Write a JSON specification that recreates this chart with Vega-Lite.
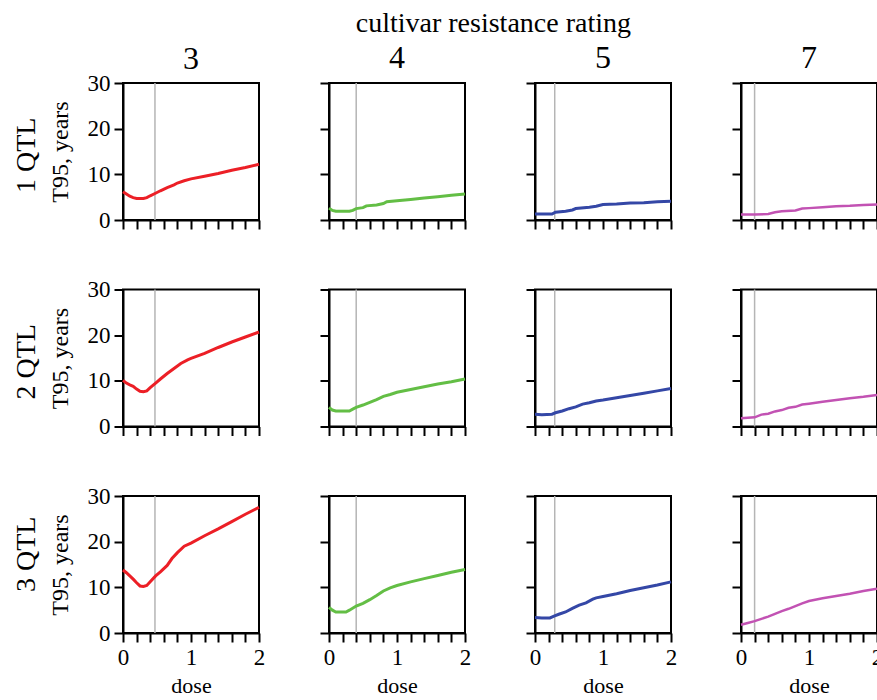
{
  "$schema": "https://vega.github.io/schema/vega-lite/v6.json",
  "padding": {"left": 13, "top": 10, "right": 0, "bottom": 0},
  "background": "white",
  "datasets": {
    "thresholds": [
      {"rating": 3, "dose": 0.47},
      {"rating": 4, "dose": 0.4},
      {"rating": 5, "dose": 0.29},
      {"rating": 7, "dose": 0.2}
    ],
    "curves": [
      {"qtl": 1, "rating": 3, "dose": 0, "t95": 6.2},
      {"qtl": 1, "rating": 3, "dose": 0.05, "t95": 5.7},
      {"qtl": 1, "rating": 3, "dose": 0.1, "t95": 5.2},
      {"qtl": 1, "rating": 3, "dose": 0.15, "t95": 4.9},
      {"qtl": 1, "rating": 3, "dose": 0.2, "t95": 4.7},
      {"qtl": 1, "rating": 3, "dose": 0.3, "t95": 4.7},
      {"qtl": 1, "rating": 3, "dose": 0.35, "t95": 4.9},
      {"qtl": 1, "rating": 3, "dose": 0.4, "t95": 5.3},
      {"qtl": 1, "rating": 3, "dose": 0.47, "t95": 5.8},
      {"qtl": 1, "rating": 3, "dose": 0.55, "t95": 6.4},
      {"qtl": 1, "rating": 3, "dose": 0.65, "t95": 7.1},
      {"qtl": 1, "rating": 3, "dose": 0.75, "t95": 7.7},
      {"qtl": 1, "rating": 3, "dose": 0.8, "t95": 8.1},
      {"qtl": 1, "rating": 3, "dose": 0.9, "t95": 8.6},
      {"qtl": 1, "rating": 3, "dose": 1.0, "t95": 9.0},
      {"qtl": 1, "rating": 3, "dose": 1.2, "t95": 9.6},
      {"qtl": 1, "rating": 3, "dose": 1.4, "t95": 10.2},
      {"qtl": 1, "rating": 3, "dose": 1.6, "t95": 10.9},
      {"qtl": 1, "rating": 3, "dose": 1.8, "t95": 11.5},
      {"qtl": 1, "rating": 3, "dose": 2.0, "t95": 12.2},

      {"qtl": 2, "rating": 3, "dose": 0, "t95": 10.1},
      {"qtl": 2, "rating": 3, "dose": 0.05, "t95": 9.5},
      {"qtl": 2, "rating": 3, "dose": 0.1, "t95": 9.1},
      {"qtl": 2, "rating": 3, "dose": 0.15, "t95": 8.8},
      {"qtl": 2, "rating": 3, "dose": 0.2, "t95": 8.2},
      {"qtl": 2, "rating": 3, "dose": 0.25, "t95": 7.7},
      {"qtl": 2, "rating": 3, "dose": 0.3, "t95": 7.6},
      {"qtl": 2, "rating": 3, "dose": 0.35, "t95": 7.8},
      {"qtl": 2, "rating": 3, "dose": 0.4, "t95": 8.5},
      {"qtl": 2, "rating": 3, "dose": 0.48, "t95": 9.5},
      {"qtl": 2, "rating": 3, "dose": 0.55, "t95": 10.4},
      {"qtl": 2, "rating": 3, "dose": 0.65, "t95": 11.6},
      {"qtl": 2, "rating": 3, "dose": 0.75, "t95": 12.7},
      {"qtl": 2, "rating": 3, "dose": 0.85, "t95": 13.8},
      {"qtl": 2, "rating": 3, "dose": 0.95, "t95": 14.6},
      {"qtl": 2, "rating": 3, "dose": 1.0, "t95": 14.9},
      {"qtl": 2, "rating": 3, "dose": 1.2, "t95": 16.0},
      {"qtl": 2, "rating": 3, "dose": 1.4, "t95": 17.3},
      {"qtl": 2, "rating": 3, "dose": 1.6, "t95": 18.5},
      {"qtl": 2, "rating": 3, "dose": 1.8, "t95": 19.6},
      {"qtl": 2, "rating": 3, "dose": 2.0, "t95": 20.7},

      {"qtl": 3, "rating": 3, "dose": 0, "t95": 13.8},
      {"qtl": 3, "rating": 3, "dose": 0.05, "t95": 13.2},
      {"qtl": 3, "rating": 3, "dose": 0.1, "t95": 12.5},
      {"qtl": 3, "rating": 3, "dose": 0.15, "t95": 11.8},
      {"qtl": 3, "rating": 3, "dose": 0.2, "t95": 11.0},
      {"qtl": 3, "rating": 3, "dose": 0.25, "t95": 10.3},
      {"qtl": 3, "rating": 3, "dose": 0.3, "t95": 10.2},
      {"qtl": 3, "rating": 3, "dose": 0.35, "t95": 10.4},
      {"qtl": 3, "rating": 3, "dose": 0.4, "t95": 11.2},
      {"qtl": 3, "rating": 3, "dose": 0.48, "t95": 12.5},
      {"qtl": 3, "rating": 3, "dose": 0.55, "t95": 13.4},
      {"qtl": 3, "rating": 3, "dose": 0.65, "t95": 14.8},
      {"qtl": 3, "rating": 3, "dose": 0.72, "t95": 16.3},
      {"qtl": 3, "rating": 3, "dose": 0.8, "t95": 17.6},
      {"qtl": 3, "rating": 3, "dose": 0.9, "t95": 19.0},
      {"qtl": 3, "rating": 3, "dose": 1.0, "t95": 19.7},
      {"qtl": 3, "rating": 3, "dose": 1.2, "t95": 21.3},
      {"qtl": 3, "rating": 3, "dose": 1.4, "t95": 22.8},
      {"qtl": 3, "rating": 3, "dose": 1.6, "t95": 24.4},
      {"qtl": 3, "rating": 3, "dose": 1.8, "t95": 26.0},
      {"qtl": 3, "rating": 3, "dose": 2.0, "t95": 27.5},

      {"qtl": 1, "rating": 4, "dose": 0, "t95": 2.6},
      {"qtl": 1, "rating": 4, "dose": 0.05, "t95": 2.1},
      {"qtl": 1, "rating": 4, "dose": 0.1, "t95": 1.9},
      {"qtl": 1, "rating": 4, "dose": 0.2, "t95": 1.9},
      {"qtl": 1, "rating": 4, "dose": 0.3, "t95": 1.9},
      {"qtl": 1, "rating": 4, "dose": 0.35, "t95": 2.1},
      {"qtl": 1, "rating": 4, "dose": 0.4, "t95": 2.5},
      {"qtl": 1, "rating": 4, "dose": 0.5, "t95": 2.7},
      {"qtl": 1, "rating": 4, "dose": 0.55, "t95": 3.1},
      {"qtl": 1, "rating": 4, "dose": 0.7, "t95": 3.3},
      {"qtl": 1, "rating": 4, "dose": 0.8, "t95": 3.6},
      {"qtl": 1, "rating": 4, "dose": 0.85, "t95": 4.0},
      {"qtl": 1, "rating": 4, "dose": 1.0, "t95": 4.2},
      {"qtl": 1, "rating": 4, "dose": 1.2, "t95": 4.5},
      {"qtl": 1, "rating": 4, "dose": 1.4, "t95": 4.8},
      {"qtl": 1, "rating": 4, "dose": 1.6, "t95": 5.1},
      {"qtl": 1, "rating": 4, "dose": 1.8, "t95": 5.4},
      {"qtl": 1, "rating": 4, "dose": 2.0, "t95": 5.7},

      {"qtl": 2, "rating": 4, "dose": 0, "t95": 4.2},
      {"qtl": 2, "rating": 4, "dose": 0.05, "t95": 3.6},
      {"qtl": 2, "rating": 4, "dose": 0.1, "t95": 3.4},
      {"qtl": 2, "rating": 4, "dose": 0.3, "t95": 3.4},
      {"qtl": 2, "rating": 4, "dose": 0.35, "t95": 3.8},
      {"qtl": 2, "rating": 4, "dose": 0.4, "t95": 4.2},
      {"qtl": 2, "rating": 4, "dose": 0.5, "t95": 4.7},
      {"qtl": 2, "rating": 4, "dose": 0.6, "t95": 5.3},
      {"qtl": 2, "rating": 4, "dose": 0.7, "t95": 5.9},
      {"qtl": 2, "rating": 4, "dose": 0.8, "t95": 6.6},
      {"qtl": 2, "rating": 4, "dose": 0.9, "t95": 7.0},
      {"qtl": 2, "rating": 4, "dose": 1.0, "t95": 7.5},
      {"qtl": 2, "rating": 4, "dose": 1.2, "t95": 8.1},
      {"qtl": 2, "rating": 4, "dose": 1.4, "t95": 8.7},
      {"qtl": 2, "rating": 4, "dose": 1.6, "t95": 9.3},
      {"qtl": 2, "rating": 4, "dose": 1.8, "t95": 9.8},
      {"qtl": 2, "rating": 4, "dose": 2.0, "t95": 10.4},

      {"qtl": 3, "rating": 4, "dose": 0, "t95": 5.6},
      {"qtl": 3, "rating": 4, "dose": 0.05, "t95": 5.0},
      {"qtl": 3, "rating": 4, "dose": 0.1, "t95": 4.6},
      {"qtl": 3, "rating": 4, "dose": 0.25, "t95": 4.6},
      {"qtl": 3, "rating": 4, "dose": 0.3, "t95": 5.0},
      {"qtl": 3, "rating": 4, "dose": 0.4, "t95": 5.9},
      {"qtl": 3, "rating": 4, "dose": 0.5, "t95": 6.5},
      {"qtl": 3, "rating": 4, "dose": 0.6, "t95": 7.3},
      {"qtl": 3, "rating": 4, "dose": 0.7, "t95": 8.2},
      {"qtl": 3, "rating": 4, "dose": 0.8, "t95": 9.2},
      {"qtl": 3, "rating": 4, "dose": 0.9, "t95": 9.9},
      {"qtl": 3, "rating": 4, "dose": 1.0, "t95": 10.4},
      {"qtl": 3, "rating": 4, "dose": 1.2, "t95": 11.2},
      {"qtl": 3, "rating": 4, "dose": 1.4, "t95": 11.9},
      {"qtl": 3, "rating": 4, "dose": 1.6, "t95": 12.6},
      {"qtl": 3, "rating": 4, "dose": 1.8, "t95": 13.3},
      {"qtl": 3, "rating": 4, "dose": 2.0, "t95": 13.9},

      {"qtl": 1, "rating": 5, "dose": 0, "t95": 1.3},
      {"qtl": 1, "rating": 5, "dose": 0.25, "t95": 1.3},
      {"qtl": 1, "rating": 5, "dose": 0.3, "t95": 1.7},
      {"qtl": 1, "rating": 5, "dose": 0.45, "t95": 1.9},
      {"qtl": 1, "rating": 5, "dose": 0.55, "t95": 2.2},
      {"qtl": 1, "rating": 5, "dose": 0.6, "t95": 2.5},
      {"qtl": 1, "rating": 5, "dose": 0.8, "t95": 2.8},
      {"qtl": 1, "rating": 5, "dose": 0.9, "t95": 3.0},
      {"qtl": 1, "rating": 5, "dose": 1.0, "t95": 3.4},
      {"qtl": 1, "rating": 5, "dose": 1.2, "t95": 3.5},
      {"qtl": 1, "rating": 5, "dose": 1.4, "t95": 3.7},
      {"qtl": 1, "rating": 5, "dose": 1.6, "t95": 3.8},
      {"qtl": 1, "rating": 5, "dose": 1.8, "t95": 4.0},
      {"qtl": 1, "rating": 5, "dose": 2.0, "t95": 4.1},

      {"qtl": 2, "rating": 5, "dose": 0, "t95": 2.7},
      {"qtl": 2, "rating": 5, "dose": 0.1, "t95": 2.6},
      {"qtl": 2, "rating": 5, "dose": 0.25, "t95": 2.7},
      {"qtl": 2, "rating": 5, "dose": 0.3, "t95": 3.0},
      {"qtl": 2, "rating": 5, "dose": 0.4, "t95": 3.4},
      {"qtl": 2, "rating": 5, "dose": 0.5, "t95": 3.9},
      {"qtl": 2, "rating": 5, "dose": 0.6, "t95": 4.3},
      {"qtl": 2, "rating": 5, "dose": 0.7, "t95": 4.9},
      {"qtl": 2, "rating": 5, "dose": 0.8, "t95": 5.2},
      {"qtl": 2, "rating": 5, "dose": 0.9, "t95": 5.6},
      {"qtl": 2, "rating": 5, "dose": 1.0, "t95": 5.8},
      {"qtl": 2, "rating": 5, "dose": 1.2, "t95": 6.3},
      {"qtl": 2, "rating": 5, "dose": 1.4, "t95": 6.8},
      {"qtl": 2, "rating": 5, "dose": 1.6, "t95": 7.3},
      {"qtl": 2, "rating": 5, "dose": 1.8, "t95": 7.8},
      {"qtl": 2, "rating": 5, "dose": 2.0, "t95": 8.3},

      {"qtl": 3, "rating": 5, "dose": 0, "t95": 3.4},
      {"qtl": 3, "rating": 5, "dose": 0.1, "t95": 3.3},
      {"qtl": 3, "rating": 5, "dose": 0.22, "t95": 3.3},
      {"qtl": 3, "rating": 5, "dose": 0.28, "t95": 3.7},
      {"qtl": 3, "rating": 5, "dose": 0.35, "t95": 4.1},
      {"qtl": 3, "rating": 5, "dose": 0.45, "t95": 4.6},
      {"qtl": 3, "rating": 5, "dose": 0.55, "t95": 5.4},
      {"qtl": 3, "rating": 5, "dose": 0.65, "t95": 6.1},
      {"qtl": 3, "rating": 5, "dose": 0.75, "t95": 6.6},
      {"qtl": 3, "rating": 5, "dose": 0.85, "t95": 7.4},
      {"qtl": 3, "rating": 5, "dose": 0.9, "t95": 7.7},
      {"qtl": 3, "rating": 5, "dose": 1.0, "t95": 8.0},
      {"qtl": 3, "rating": 5, "dose": 1.2, "t95": 8.6},
      {"qtl": 3, "rating": 5, "dose": 1.4, "t95": 9.3},
      {"qtl": 3, "rating": 5, "dose": 1.6, "t95": 9.9},
      {"qtl": 3, "rating": 5, "dose": 1.8, "t95": 10.5},
      {"qtl": 3, "rating": 5, "dose": 2.0, "t95": 11.2},

      {"qtl": 1, "rating": 7, "dose": 0, "t95": 1.2},
      {"qtl": 1, "rating": 7, "dose": 0.2, "t95": 1.2},
      {"qtl": 1, "rating": 7, "dose": 0.4, "t95": 1.3},
      {"qtl": 1, "rating": 7, "dose": 0.5, "t95": 1.7},
      {"qtl": 1, "rating": 7, "dose": 0.6, "t95": 1.9},
      {"qtl": 1, "rating": 7, "dose": 0.8, "t95": 2.1},
      {"qtl": 1, "rating": 7, "dose": 0.9, "t95": 2.5},
      {"qtl": 1, "rating": 7, "dose": 1.0, "t95": 2.6},
      {"qtl": 1, "rating": 7, "dose": 1.2, "t95": 2.8},
      {"qtl": 1, "rating": 7, "dose": 1.4, "t95": 3.0},
      {"qtl": 1, "rating": 7, "dose": 1.6, "t95": 3.1},
      {"qtl": 1, "rating": 7, "dose": 1.8, "t95": 3.3},
      {"qtl": 1, "rating": 7, "dose": 2.0, "t95": 3.4},

      {"qtl": 2, "rating": 7, "dose": 0, "t95": 1.8},
      {"qtl": 2, "rating": 7, "dose": 0.1, "t95": 1.9},
      {"qtl": 2, "rating": 7, "dose": 0.2, "t95": 2.0},
      {"qtl": 2, "rating": 7, "dose": 0.3, "t95": 2.6},
      {"qtl": 2, "rating": 7, "dose": 0.4, "t95": 2.8},
      {"qtl": 2, "rating": 7, "dose": 0.5, "t95": 3.3},
      {"qtl": 2, "rating": 7, "dose": 0.6, "t95": 3.6},
      {"qtl": 2, "rating": 7, "dose": 0.7, "t95": 4.1},
      {"qtl": 2, "rating": 7, "dose": 0.8, "t95": 4.3},
      {"qtl": 2, "rating": 7, "dose": 0.9, "t95": 4.8},
      {"qtl": 2, "rating": 7, "dose": 1.0, "t95": 5.0},
      {"qtl": 2, "rating": 7, "dose": 1.2, "t95": 5.4},
      {"qtl": 2, "rating": 7, "dose": 1.4, "t95": 5.8},
      {"qtl": 2, "rating": 7, "dose": 1.6, "t95": 6.2},
      {"qtl": 2, "rating": 7, "dose": 1.8, "t95": 6.5},
      {"qtl": 2, "rating": 7, "dose": 2.0, "t95": 6.9},

      {"qtl": 3, "rating": 7, "dose": 0, "t95": 1.8},
      {"qtl": 3, "rating": 7, "dose": 0.1, "t95": 2.2},
      {"qtl": 3, "rating": 7, "dose": 0.2, "t95": 2.6},
      {"qtl": 3, "rating": 7, "dose": 0.3, "t95": 3.1},
      {"qtl": 3, "rating": 7, "dose": 0.4, "t95": 3.6},
      {"qtl": 3, "rating": 7, "dose": 0.5, "t95": 4.2},
      {"qtl": 3, "rating": 7, "dose": 0.6, "t95": 4.8},
      {"qtl": 3, "rating": 7, "dose": 0.7, "t95": 5.3},
      {"qtl": 3, "rating": 7, "dose": 0.8, "t95": 5.9},
      {"qtl": 3, "rating": 7, "dose": 0.9, "t95": 6.5},
      {"qtl": 3, "rating": 7, "dose": 1.0, "t95": 7.0},
      {"qtl": 3, "rating": 7, "dose": 1.2, "t95": 7.6},
      {"qtl": 3, "rating": 7, "dose": 1.4, "t95": 8.1},
      {"qtl": 3, "rating": 7, "dose": 1.6, "t95": 8.6},
      {"qtl": 3, "rating": 7, "dose": 1.8, "t95": 9.2},
      {"qtl": 3, "rating": 7, "dose": 2.0, "t95": 9.7}
    ]
  },
  "title": {"text": "cultivar resistance rating", "fontSize": 28, "anchor": "middle", "dx": 45, "offset": 3},
  "spacing": 206.5,
  "bounds": "flush",
  "vconcat": [
    {
      "title": {"text": "1 QTL", "orient": "left", "fontSize": 28, "offset": 6, "dx": 40},
      "bounds": "flush",
      "spacing": 70,
      "hconcat": [
        {"width": 136, "height": 137, "title": {"text": "3", "offset": -4},
         "encoding": {"x": {"field": "dose", "type": "quantitative", "scale": {"domain": [0, 2], "nice": false}, "axis": {"values": [0, 0.2, 0.4, 0.6, 0.8, 1, 1.2, 1.4, 1.6, 1.8, 2], "labels": false, "title": null}}},
         "layer": [
          {"data": {"name": "thresholds"}, "transform": [{"filter": "datum.rating == 3"}], "mark": {"type": "rule", "color": "#b5b5b5", "strokeWidth": 1.5}, "encoding": {}},
          {"data": {"name": "curves"}, "transform": [{"filter": "datum.qtl == 1 && datum.rating == 3"}], "mark": {"type": "line", "color": "#ec1f26", "strokeWidth": 3}, "encoding": {"y": {"field": "t95", "type": "quantitative", "scale": {"domain": [0, 30], "nice": false}, "axis": {"values": [0, 10, 20, 30], "title": "T95, years", "titleFontSize": 24}}}}
         ]},
        {"width": 136, "height": 137, "title": {"text": "4"},
         "encoding": {"x": {"field": "dose", "type": "quantitative", "scale": {"domain": [0, 2], "nice": false}, "axis": {"values": [0, 0.2, 0.4, 0.6, 0.8, 1, 1.2, 1.4, 1.6, 1.8, 2], "labels": false, "title": null}}},
         "layer": [
          {"data": {"name": "thresholds"}, "transform": [{"filter": "datum.rating == 4"}], "mark": {"type": "rule", "color": "#b5b5b5", "strokeWidth": 1.5}, "encoding": {}},
          {"data": {"name": "curves"}, "transform": [{"filter": "datum.qtl == 1 && datum.rating == 4"}], "mark": {"type": "line", "color": "#63be45", "strokeWidth": 3}, "encoding": {"y": {"field": "t95", "type": "quantitative", "scale": {"domain": [0, 30], "nice": false}, "axis": {"values": [0, 10, 20, 30], "labels": false, "title": null}}}}
         ]},
        {"width": 136, "height": 137, "title": {"text": "5"},
         "encoding": {"x": {"field": "dose", "type": "quantitative", "scale": {"domain": [0, 2], "nice": false}, "axis": {"values": [0, 0.2, 0.4, 0.6, 0.8, 1, 1.2, 1.4, 1.6, 1.8, 2], "labels": false, "title": null}}},
         "layer": [
          {"data": {"name": "thresholds"}, "transform": [{"filter": "datum.rating == 5"}], "mark": {"type": "rule", "color": "#b5b5b5", "strokeWidth": 1.5}, "encoding": {}},
          {"data": {"name": "curves"}, "transform": [{"filter": "datum.qtl == 1 && datum.rating == 5"}], "mark": {"type": "line", "color": "#3447a6", "strokeWidth": 3}, "encoding": {"y": {"field": "t95", "type": "quantitative", "scale": {"domain": [0, 30], "nice": false}, "axis": {"values": [0, 10, 20, 30], "labels": false, "title": null}}}}
         ]},
        {"width": 136, "height": 137, "title": {"text": "7"},
         "encoding": {"x": {"field": "dose", "type": "quantitative", "scale": {"domain": [0, 2], "nice": false}, "axis": {"values": [0, 0.2, 0.4, 0.6, 0.8, 1, 1.2, 1.4, 1.6, 1.8, 2], "labels": false, "title": null}}},
         "layer": [
          {"data": {"name": "thresholds"}, "transform": [{"filter": "datum.rating == 7"}], "mark": {"type": "rule", "color": "#b5b5b5", "strokeWidth": 1.5}, "encoding": {}},
          {"data": {"name": "curves"}, "transform": [{"filter": "datum.qtl == 1 && datum.rating == 7"}], "mark": {"type": "line", "color": "#c252b3", "strokeWidth": 2.5}, "encoding": {"y": {"field": "t95", "type": "quantitative", "scale": {"domain": [0, 30], "nice": false}, "axis": {"values": [0, 10, 20, 30], "labels": false, "title": null}}}}
         ]}
      ]
    },
    {
      "title": {"text": "2 QTL", "orient": "left", "fontSize": 28, "offset": 6, "dx": 40},
      "bounds": "flush",
      "spacing": 70,
      "hconcat": [
        {"width": 136, "height": 137,
         "encoding": {"x": {"field": "dose", "type": "quantitative", "scale": {"domain": [0, 2], "nice": false}, "axis": {"values": [0, 0.2, 0.4, 0.6, 0.8, 1, 1.2, 1.4, 1.6, 1.8, 2], "labels": false, "title": null}}},
         "layer": [
          {"data": {"name": "thresholds"}, "transform": [{"filter": "datum.rating == 3"}], "mark": {"type": "rule", "color": "#b5b5b5", "strokeWidth": 1.5}, "encoding": {}},
          {"data": {"name": "curves"}, "transform": [{"filter": "datum.qtl == 2 && datum.rating == 3"}], "mark": {"type": "line", "color": "#ec1f26", "strokeWidth": 3}, "encoding": {"y": {"field": "t95", "type": "quantitative", "scale": {"domain": [0, 30], "nice": false}, "axis": {"values": [0, 10, 20, 30], "title": "T95, years", "titleFontSize": 24}}}}
         ]},
        {"width": 136, "height": 137,
         "encoding": {"x": {"field": "dose", "type": "quantitative", "scale": {"domain": [0, 2], "nice": false}, "axis": {"values": [0, 0.2, 0.4, 0.6, 0.8, 1, 1.2, 1.4, 1.6, 1.8, 2], "labels": false, "title": null}}},
         "layer": [
          {"data": {"name": "thresholds"}, "transform": [{"filter": "datum.rating == 4"}], "mark": {"type": "rule", "color": "#b5b5b5", "strokeWidth": 1.5}, "encoding": {}},
          {"data": {"name": "curves"}, "transform": [{"filter": "datum.qtl == 2 && datum.rating == 4"}], "mark": {"type": "line", "color": "#63be45", "strokeWidth": 3}, "encoding": {"y": {"field": "t95", "type": "quantitative", "scale": {"domain": [0, 30], "nice": false}, "axis": {"values": [0, 10, 20, 30], "labels": false, "title": null}}}}
         ]},
        {"width": 136, "height": 137,
         "encoding": {"x": {"field": "dose", "type": "quantitative", "scale": {"domain": [0, 2], "nice": false}, "axis": {"values": [0, 0.2, 0.4, 0.6, 0.8, 1, 1.2, 1.4, 1.6, 1.8, 2], "labels": false, "title": null}}},
         "layer": [
          {"data": {"name": "thresholds"}, "transform": [{"filter": "datum.rating == 5"}], "mark": {"type": "rule", "color": "#b5b5b5", "strokeWidth": 1.5}, "encoding": {}},
          {"data": {"name": "curves"}, "transform": [{"filter": "datum.qtl == 2 && datum.rating == 5"}], "mark": {"type": "line", "color": "#3447a6", "strokeWidth": 3}, "encoding": {"y": {"field": "t95", "type": "quantitative", "scale": {"domain": [0, 30], "nice": false}, "axis": {"values": [0, 10, 20, 30], "labels": false, "title": null}}}}
         ]},
        {"width": 136, "height": 137,
         "encoding": {"x": {"field": "dose", "type": "quantitative", "scale": {"domain": [0, 2], "nice": false}, "axis": {"values": [0, 0.2, 0.4, 0.6, 0.8, 1, 1.2, 1.4, 1.6, 1.8, 2], "labels": false, "title": null}}},
         "layer": [
          {"data": {"name": "thresholds"}, "transform": [{"filter": "datum.rating == 7"}], "mark": {"type": "rule", "color": "#b5b5b5", "strokeWidth": 1.5}, "encoding": {}},
          {"data": {"name": "curves"}, "transform": [{"filter": "datum.qtl == 2 && datum.rating == 7"}], "mark": {"type": "line", "color": "#c252b3", "strokeWidth": 2.5}, "encoding": {"y": {"field": "t95", "type": "quantitative", "scale": {"domain": [0, 30], "nice": false}, "axis": {"values": [0, 10, 20, 30], "labels": false, "title": null}}}}
         ]}
      ]
    },
    {
      "title": {"text": "3 QTL", "orient": "left", "fontSize": 28, "offset": 6, "dx": 105},
      "bounds": "flush",
      "spacing": 70,
      "hconcat": [
        {"width": 136, "height": 137,
         "encoding": {"x": {"field": "dose", "type": "quantitative", "scale": {"domain": [0, 2], "nice": false}, "axis": {"values": [0, 0.2, 0.4, 0.6, 0.8, 1, 1.2, 1.4, 1.6, 1.8, 2], "labelExpr": "datum.value % 1 == 0 ? '' + datum.value : ''", "labelFlush": false, "title": "dose"}}},
         "layer": [
          {"data": {"name": "thresholds"}, "transform": [{"filter": "datum.rating == 3"}], "mark": {"type": "rule", "color": "#b5b5b5", "strokeWidth": 1.5}, "encoding": {}},
          {"data": {"name": "curves"}, "transform": [{"filter": "datum.qtl == 3 && datum.rating == 3"}], "mark": {"type": "line", "color": "#ec1f26", "strokeWidth": 3}, "encoding": {"y": {"field": "t95", "type": "quantitative", "scale": {"domain": [0, 30], "nice": false}, "axis": {"values": [0, 10, 20, 30], "title": "T95, years", "titleFontSize": 24}}}}
         ]},
        {"width": 136, "height": 137,
         "encoding": {"x": {"field": "dose", "type": "quantitative", "scale": {"domain": [0, 2], "nice": false}, "axis": {"values": [0, 0.2, 0.4, 0.6, 0.8, 1, 1.2, 1.4, 1.6, 1.8, 2], "labelExpr": "datum.value % 1 == 0 ? '' + datum.value : ''", "labelFlush": false, "title": "dose"}}},
         "layer": [
          {"data": {"name": "thresholds"}, "transform": [{"filter": "datum.rating == 4"}], "mark": {"type": "rule", "color": "#b5b5b5", "strokeWidth": 1.5}, "encoding": {}},
          {"data": {"name": "curves"}, "transform": [{"filter": "datum.qtl == 3 && datum.rating == 4"}], "mark": {"type": "line", "color": "#63be45", "strokeWidth": 3}, "encoding": {"y": {"field": "t95", "type": "quantitative", "scale": {"domain": [0, 30], "nice": false}, "axis": {"values": [0, 10, 20, 30], "labels": false, "title": null}}}}
         ]},
        {"width": 136, "height": 137,
         "encoding": {"x": {"field": "dose", "type": "quantitative", "scale": {"domain": [0, 2], "nice": false}, "axis": {"values": [0, 0.2, 0.4, 0.6, 0.8, 1, 1.2, 1.4, 1.6, 1.8, 2], "labelExpr": "datum.value % 1 == 0 ? '' + datum.value : ''", "labelFlush": false, "title": "dose"}}},
         "layer": [
          {"data": {"name": "thresholds"}, "transform": [{"filter": "datum.rating == 5"}], "mark": {"type": "rule", "color": "#b5b5b5", "strokeWidth": 1.5}, "encoding": {}},
          {"data": {"name": "curves"}, "transform": [{"filter": "datum.qtl == 3 && datum.rating == 5"}], "mark": {"type": "line", "color": "#3447a6", "strokeWidth": 3}, "encoding": {"y": {"field": "t95", "type": "quantitative", "scale": {"domain": [0, 30], "nice": false}, "axis": {"values": [0, 10, 20, 30], "labels": false, "title": null}}}}
         ]},
        {"width": 136, "height": 137,
         "encoding": {"x": {"field": "dose", "type": "quantitative", "scale": {"domain": [0, 2], "nice": false}, "axis": {"values": [0, 0.2, 0.4, 0.6, 0.8, 1, 1.2, 1.4, 1.6, 1.8, 2], "labelExpr": "datum.value % 1 == 0 ? '' + datum.value : ''", "labelFlush": false, "title": "dose"}}},
         "layer": [
          {"data": {"name": "thresholds"}, "transform": [{"filter": "datum.rating == 7"}], "mark": {"type": "rule", "color": "#b5b5b5", "strokeWidth": 1.5}, "encoding": {}},
          {"data": {"name": "curves"}, "transform": [{"filter": "datum.qtl == 3 && datum.rating == 7"}], "mark": {"type": "line", "color": "#c252b3", "strokeWidth": 2.5}, "encoding": {"y": {"field": "t95", "type": "quantitative", "scale": {"domain": [0, 30], "nice": false}, "axis": {"values": [0, 10, 20, 30], "labels": false, "title": null}}}}
         ]}
      ]
    }
  ],
  "config": {
    "font": "Liberation Serif",
    "view": {"stroke": "black", "strokeWidth": 2},
    "axis": {"domainColor": "black", "domainWidth": 2, "tickColor": "black", "tickWidth": 2, "tickSize": 9, "grid": false, "labelFontSize": 23, "labelColor": "black", "labelPadding": 4, "titleFontSize": 22, "titleFontWeight": "normal", "titleColor": "black", "titlePadding": 15},
    "axisY": {"titleFontSize": 24, "labelFontSize": 23},
    "axisX": {"titleFontSize": 22, "labelFontSize": 23, "titlePadding": 6},
    "title": {"fontSize": 32, "fontWeight": "normal", "color": "black", "offset": 7}
  }
}
